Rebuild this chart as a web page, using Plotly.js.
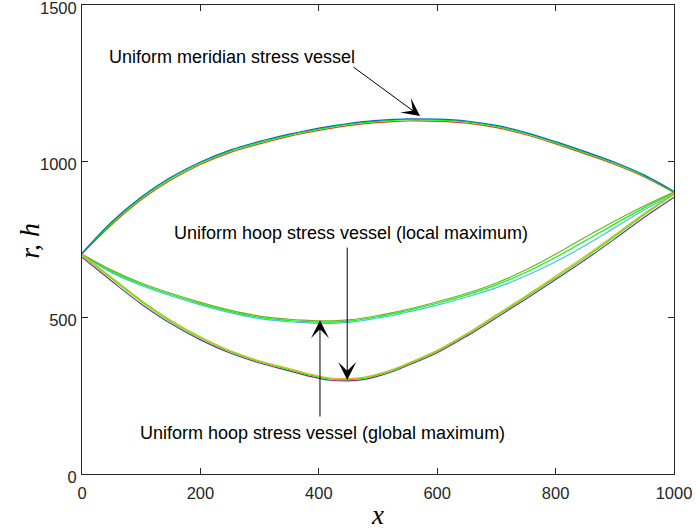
<!DOCTYPE html>
<html>
<head>
<meta charset="utf-8">
<script src="https://cdn.plot.ly/plotly-3.0.1.min.js"></script>
<style>
  html, body { margin: 0; padding: 0; background: #ffffff; }
  #chart { width: 696px; height: 531px; }
</style>
</head>
<body>
<div id="chart"></div>
<script>
// Axial positions along the vessel (denser near the waist)
const X = [0, 50, 100, 150, 200, 250, 300, 350, 375, 400, 425, 450, 475, 500, 525, 550, 600, 650, 700, 750, 800, 850, 900, 950, 1000];

// Uniform meridian stress vessel profiles
const merBlue   = [706, 806, 886, 949, 998, 1036, 1064, 1087, 1097, 1106, 1114, 1121, 1127, 1131, 1134, 1136, 1135, 1129, 1115, 1092, 1063, 1031, 997, 956, 904];
const merGreen  = [705, 802, 882, 945, 994, 1032, 1060, 1084, 1094, 1103, 1111, 1118, 1124, 1128, 1131, 1133, 1132, 1126, 1112, 1089, 1060, 1028, 994, 953, 902];
const merOrange = [704, 797, 877, 940, 990, 1028, 1056, 1080, 1090, 1099, 1107, 1114, 1120, 1124, 1127, 1129, 1128, 1122, 1108, 1085, 1056, 1024, 990, 950, 900];

// Uniform hoop stress vessel profiles (local maximum)
const locOlive = [703, 652, 611, 578, 549, 524, 505, 495, 492, 490, 490, 493, 499, 507, 516, 527, 551, 578, 611, 653, 703, 757, 809, 858, 902];
const locGreen = [702, 648, 607, 574, 545, 520, 501, 491, 488, 486, 486, 489, 495, 503, 512, 523, 546, 573, 605, 645, 693, 746, 800, 852, 900];
const locBlue  = [701, 644, 603, 570, 541, 516, 497, 487, 484, 482, 482, 485, 491, 499, 507, 518, 540, 566, 596, 634, 679, 731, 788, 845, 897];

// Uniform hoop stress vessel profiles (global maximum)
const globYellow = [701, 629, 556, 492, 439, 395, 362, 337, 324, 313, 306, 305, 309, 320, 335, 354, 396, 449, 510, 570, 633, 697, 765, 834, 898];
const globGreen  = [700, 625, 552, 488, 435, 392, 359, 334, 321, 310, 303, 302, 306, 317, 332, 351, 393, 446, 506, 566, 628, 692, 760, 830, 895];
const globPurple = [693, 617, 544, 481, 429, 387, 355, 330, 317, 306, 299, 298, 302, 313, 328, 347, 388, 441, 500, 560, 622, 685, 752, 821, 885];

const xTicks = [0, 200, 400, 600, 800, 1000];
const yTicks = [0, 500, 1000, 1500];

function curve(y, color) {
  return {
    x: X, y: y, type: 'scatter', mode: 'lines',
    line: { color: color, width: 1.2, shape: 'spline', smoothing: 1 },
    hoverinfo: 'skip', showlegend: false
  };
}

const traces = [
  curve(merOrange, '#D95319'),
  curve(merGreen, '#00FF00'),
  curve(merBlue, '#0072BD'),
  curve(locBlue, '#4DBEEE'),
  curve(locGreen, '#00FF00'),
  curve(locOlive, '#77AC30'),
  curve(globPurple, '#7E2F8E'),
  curve(globGreen, '#00FF00'),
  curve(globYellow, '#EDB120')
];

const labelFont = { family: 'Liberation Sans, Arial, sans-serif', size: 18, color: '#000000' };

function label(text, x, y) {
  return { text: text, x: x, y: y, xref: 'x', yref: 'y', showarrow: false, font: labelFont };
}

function pointer(x, y, ax, ay) {
  return {
    text: '', x: x, y: y, ax: ax, ay: ay,
    xref: 'x', yref: 'y', axref: 'x', ayref: 'y',
    showarrow: true, arrowhead: 3, arrowsize: 3, arrowwidth: 1, arrowcolor: '#000000'
  };
}

const axisCommon = {
  showline: true, linecolor: '#262626', linewidth: 1, mirror: 'allticks',
  ticks: 'inside', ticklen: 6, tickwidth: 1, tickcolor: '#262626',
  showgrid: false, zeroline: false, ticklabeloverflow: 'allow',
  tickfont: { family: 'Liberation Sans, Arial, sans-serif', size: 16.5, color: '#262626' }
};

const layout = {
  width: 696, height: 531,
  margin: { l: 82, r: 22, t: 5, b: 57, pad: 0 },
  paper_bgcolor: '#ffffff', plot_bgcolor: '#ffffff',
  xaxis: Object.assign({}, axisCommon, {
    range: [0, 1000], tickmode: 'array', tickvals: xTicks,
    ticklabelstandoff: 4,
    title: { text: '<i>x</i>', standoff: 4,
             font: { family: 'Liberation Serif, Times New Roman, serif', size: 27, color: '#000000' } }
  }),
  yaxis: Object.assign({}, axisCommon, {
    range: [0, 1500], tickmode: 'array', tickvals: yTicks,
    ticklabelstandoff: 1, ticklabelshift: 3
  }),
  annotations: [
    // vertical axis caption
    { text: '<i>r, h</i>', xref: 'paper', yref: 'paper', x: -0.088, y: 0.497,
      xanchor: 'center', yanchor: 'middle', textangle: -90, showarrow: false,
      font: { family: 'Liberation Serif, Times New Roman, serif', size: 28, color: '#000000' } },
    label('Uniform meridian stress vessel', 254, 1334),
    pointer(571, 1145, 456, 1305),
    label('Uniform hoop stress vessel (local maximum)', 455, 771),
    pointer(448, 301, 448, 729),
    label('Uniform hoop stress vessel (global maximum)', 407, 131),
    pointer(402, 492, 402, 179)
  ]
};

Plotly.newPlot('chart', traces, layout, { displayModeBar: false, staticPlot: true });
</script>
</body>
</html>
